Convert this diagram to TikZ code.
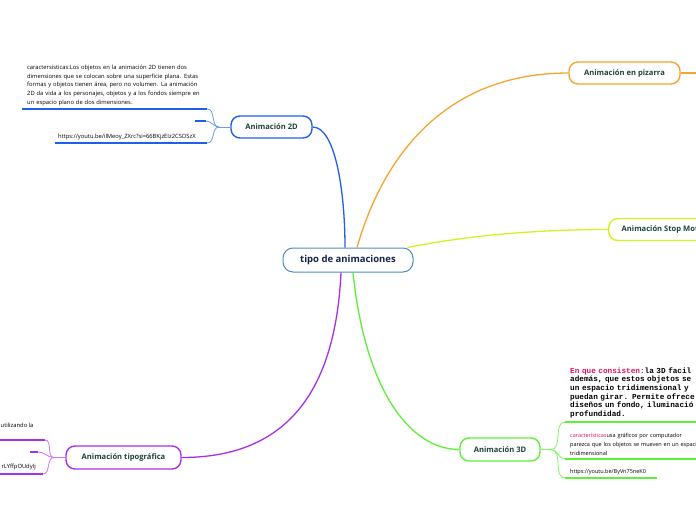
\documentclass[tikz,border=0pt]{standalone}
\usepackage{fontspec}
\setmainfont{Open Sans}
\newfontfamily\monofont[WordSpace={1,0,0}]{Liberation Mono}
\definecolor{cblue}{HTML}{2060E8}
\definecolor{corange}{HTML}{F5A431}
\definecolor{cyellow}{HTML}{D8F020}
\definecolor{cgreen}{HTML}{5EF03A}
\definecolor{cpurple}{HTML}{A830E8}
\definecolor{ccentral}{HTML}{4A8CC8}
\definecolor{ctext}{HTML}{1B4536}
\definecolor{cnavy}{HTML}{15254A}
\definecolor{cpink}{HTML}{E8105A}
\tikzset{
  central/.style={draw=ccentral, line width=1pt, rounded corners=10pt, fill=white,
    minimum width=130pt, minimum height=24pt, inner sep=0pt, text=cnavy,
    font=\fontsize{9.5}{11}\selectfont\bfseries},
  topic/.style={draw=#1, line width=1.4pt, rounded corners=9pt, fill=white,
    minimum height=22pt, inner sep=0pt, text=ctext,
    font=\fontsize{7.6}{9}\selectfont\bfseries},
  mainlink/.style={draw=#1, line width=1.3pt},
  sublink/.style={draw=#1, line width=0.8pt},
  uline/.style={draw=#1, line width=2.2pt},
  small/.style={inner xsep=5pt, inner ysep=3pt, align=left, text=black,
    font=\fontsize{5.8}{8.8}\selectfont},
  monotext/.style={inner xsep=5pt, inner ysep=4pt, align=left, text=black,
    font=\monofont\bfseries\fontsize{7.7}{8.6}\selectfont},
}
\begin{document}
\begin{tikzpicture}[x=1pt,y=-1pt]
\fill[white] (0,0) rectangle (696,520);
\useasboundingbox (0,0) rectangle (696,520);

% main nodes
\node[central] (c) at (348,260) {tipo de animaciones};
\node[topic=corange, minimum width=111pt] (piz) at (624.5,73) {Animación en pizarra};
\node[topic=cyellow, anchor=west, inner xsep=13pt] (stop) at (608,229.5) {Animación Stop Motion};
\node[topic=cgreen, minimum width=80pt, minimum height=23pt] (d3) at (500,449.5) {Animación 3D};
\node[topic=cpurple, minimum width=115pt, minimum height=23pt] (tipo) at (123.5,457.5) {Animación tipográfica};
\node[topic=cblue, minimum width=81pt] (d2) at (271.5,127) {Animación 2D};

% main links
\draw[mainlink=cblue] (d2.east) .. controls (335,127) and (345,190) .. ([xshift=-3pt]c.north);
\draw[mainlink=corange] ([xshift=9pt]c.north) .. controls (385,150) and (450,73) .. (piz.west);
\coordinate (pizend) at (700,73);
\draw[mainlink=corange] (piz.east) -- (pizend);
\draw[mainlink=cyellow] ([xshift=-6pt]c.north east) .. controls (470,235) and (540,229.5) .. (stop.west);
\draw[mainlink=cpurple] ([xshift=-7pt]c.south) .. controls (335,400) and (280,457.5) .. (tipo.east);
\draw[mainlink=cgreen] ([xshift=5pt]c.south) .. controls (365,390) and (410,449.5) .. (d3.west);

% 2D branch
\node[small, anchor=south west, text width=175pt] (t2d) at (22,109)
 {caractersisticas:Los objetos en la animación 2D tienen dos\\
  dimensiones que se colocan sobre una superficie plana. Estas\\
  formas y objetos tienen área, pero no volumen. La animación\\
  2D da vida a los personajes, objetos y a los fondos siempre en\\
  un espacio plano de dos dimensiones.};
\node[small, anchor=south west, text width=146pt, inner xsep=3pt] (u2d) at (55,143)
 {https://youtu.be/ilMeoy\_ZXrc?si=66BKjzEIz2CSOSzX};
\node[minimum width=11pt, minimum height=0pt, inner sep=0pt] (e2d) at (200.5,121) {};
\draw[uline=cblue] (t2d.south west) -- (t2d.south east);
\draw[uline=cblue] (u2d.south west) -- (u2d.south east);
\draw[uline=cblue] (e2d.west) -- (e2d.east);
\coordinate (j2d) at (219,127);
\draw[sublink=cblue!65] (d2.west) -- (j2d);
\draw[sublink=cblue!65] (j2d) to[out=180,in=0] (t2d.south east);
\draw[sublink=cblue!65] (j2d) to[out=180,in=0] (e2d.east);
\draw[sublink=cblue!65] (j2d) to[out=180,in=0] (u2d.south east);

% 3D branch
\node[monotext, anchor=south west, text width=200pt] (t3a) at (565,422)
 {\textcolor{cpink}{En que consisten:}la 3D facil\\
  además, que estos objetos se\\
  un espacio tridimensional y\\
  puedan girar. Permite ofrece\\
  diseños un fondo, iluminació\\
  profundidad.};
\node[small, anchor=south west, text width=200pt, font=\fontsize{5.5}{9}\selectfont] (t3b) at (565,459)
 {\textcolor{cpink}{características}usa gráficos por computador\\
  parezca que los objetos se mueven en un espacio\\
  tridimensional};
\node[small, anchor=south west, text width=82pt, font=\fontsize{5.5}{9}\selectfont] (u3d) at (565,478)
 {https://youtu.be/ByVn75neK0};
\draw[uline=cgreen] (t3a.south west) -- (t3a.south east);
\draw[uline=cgreen] (t3b.south west) -- (t3b.south east);
\draw[uline=cgreen] (u3d.south west) -- (u3d.south east);
\coordinate (j3d) at (551,449.5);
\draw[sublink=cgreen!80] (d3.east) -- (j3d);
\draw[sublink=cgreen!80] (j3d) to[out=0,in=180] (t3a.south west);
\draw[sublink=cgreen!80] (j3d) to[out=0,in=180] (t3b.south west);
\draw[sublink=cgreen!80] (j3d) to[out=0,in=180] (u3d.south west);

% tipografica branch
\node[small, anchor=base west, inner sep=0pt] (tt1) at (0.5,427) {utilizando la};
\node[small, anchor=base east, inner sep=0pt] (tt3) at (36,468) {rLYffpOUdyIj};
\coordinate (tu1s) at (-5,440); \coordinate (tu1) at (45,440);
\coordinate (tu2s) at (30,452); \coordinate (tu2) at (38,452);
\coordinate (tu3s) at (-5,474); \coordinate (tu3) at (43,474);
\draw[uline=cpurple] (tu1s) -- (tu1);
\draw[uline=cpurple] (tu2s) -- (tu2);
\draw[uline=cpurple] (tu3s) -- (tu3);
\coordinate (jt) at (54,457.5);
\draw[sublink=cpurple!65] (tipo.west) -- (jt);
\draw[sublink=cpurple!65] (jt) to[out=180,in=0] (tu1);
\draw[sublink=cpurple!65] (jt) to[out=180,in=0] (tu2);
\draw[sublink=cpurple!65] (jt) to[out=180,in=0] (tu3);
\end{tikzpicture}
\end{document}
